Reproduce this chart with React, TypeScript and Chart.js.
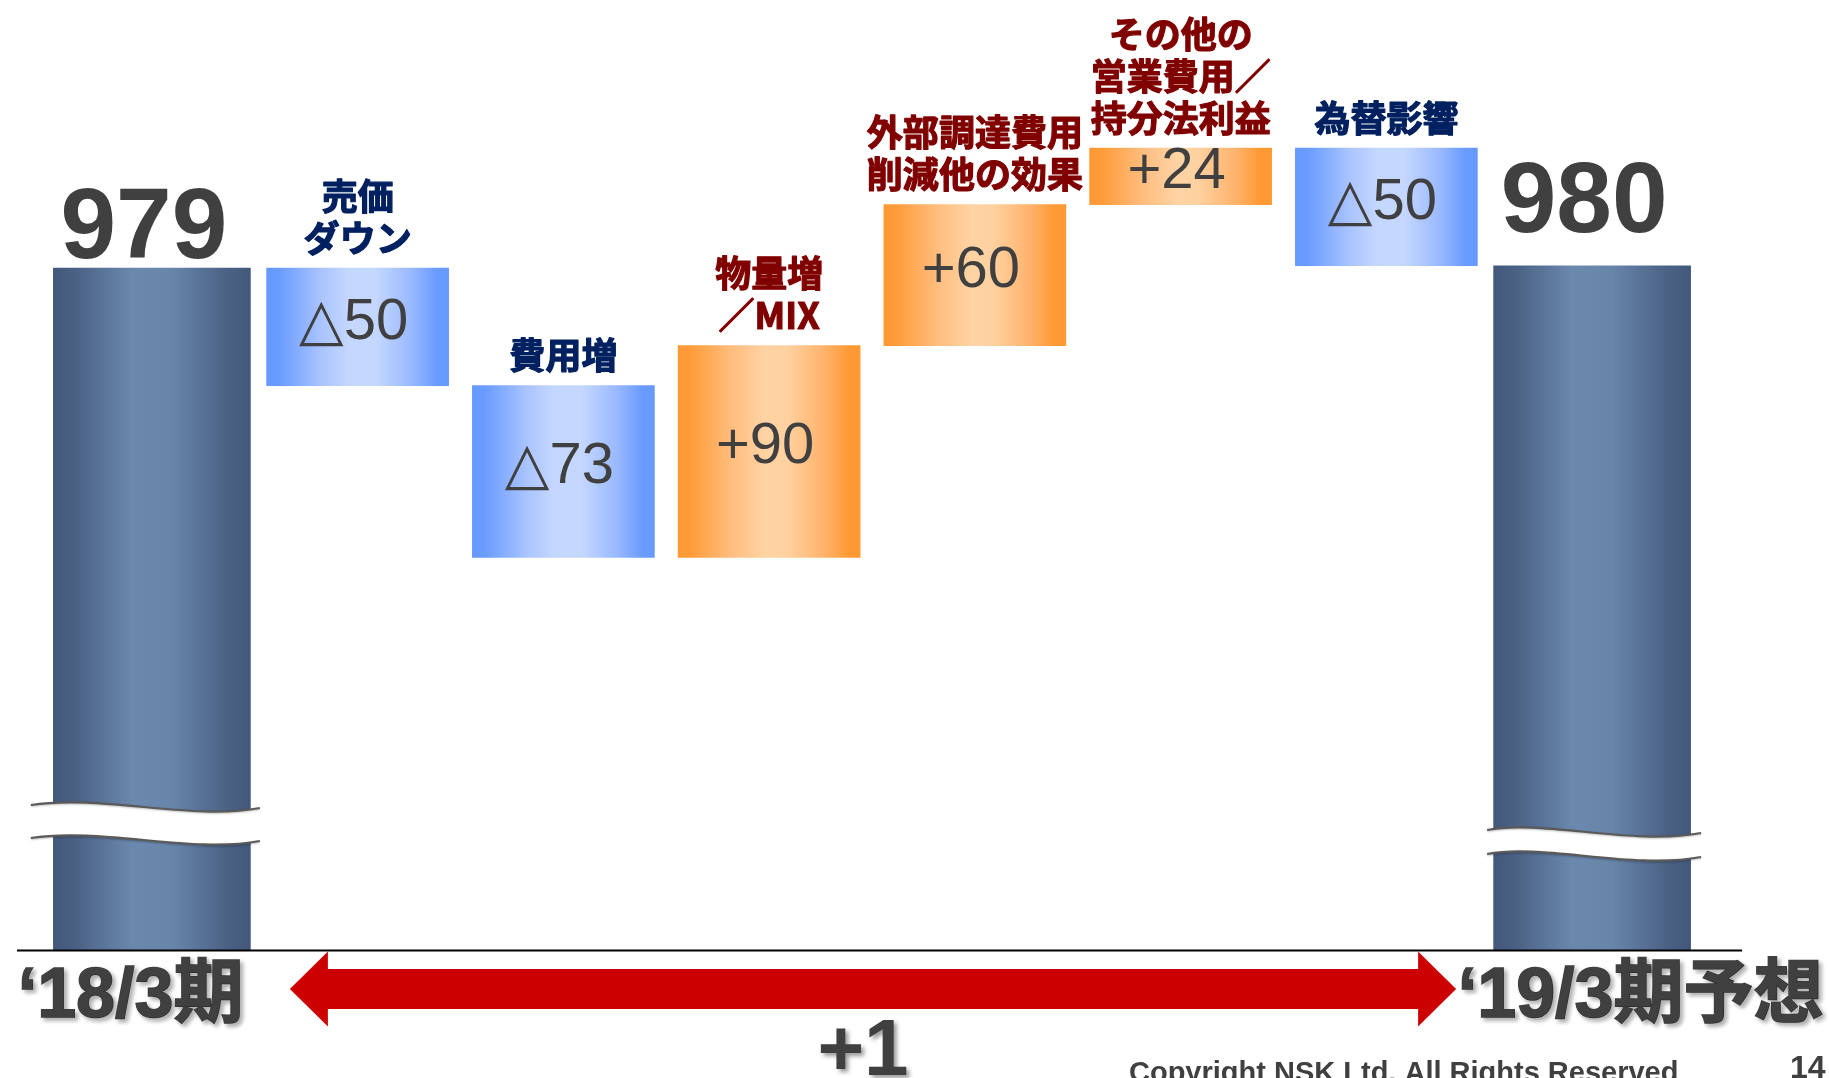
import React, { useEffect, useRef } from 'react';
import { Chart, registerables } from 'chart.js';

Chart.register(...registerables);

// ---- data ----
const categories = [
  '‘18/3期',
  '売価\nダウン',
  '費用増',
  '物量増\n／MIX',
  '外部調達費用\n削減他の効果',
  'その他の\n営業費用／\n持分法利益',
  '為替影響',
  '‘19/3期予想',
];
const tickLabels = ['‘18/3期', '‘19/3期予想'];
const startValue = 979;
const endValue = 980;
const deltas = [-50, -73, 90, 60, 24, -50];
const yMin = 689; // axis-break base of the value scale
const yMax = 1093;
const labelAxisMin = -0.054; // position range of the period-label axis
const labelAxisMax = 1.036;
const footerText = 'Copyright NSK Ltd. All Rights Reserved';
const pageNumber = '14';

// ---- derived series ----
const lastIndex = categories.length - 1;
const totals = categories.map((_, i) => (i === 0 ? startValue : i === lastIndex ? endValue : null));
const steps: (number[] | null)[] = (() => {
  let run = startValue;
  return categories.map((_, i) => {
    if (i === 0 || i === lastIndex) return null;
    const a = run;
    run += deltas[i - 1];
    return [Math.min(a, run), Math.max(a, run)];
  });
})();

const fmtDelta = (d: number) => (d < 0 ? '△' + Math.abs(d) : '+' + d);

// ---- styles ----
const TOTAL_W = 197;
const STEP_W = 182;
const TEXT_GRAY = '#404040';
const NAVY = '#002060';
const DARK_RED = '#800000';
const darkStops: [number, string][] = [
  [0, '#43587A'], [0.12, '#4B6285'], [0.4, '#6B88AD'], [0.6, '#6885AA'], [0.88, '#4B6285'], [1, '#43587A'],
];
const blueStops: [number, string][] = [
  [0, '#6699FF'], [0.07, '#6A9CFF'], [0.3, '#AAC4FF'], [0.45, '#C4D7FF'], [0.6, '#C4D7FF'], [0.8, '#98B8FF'], [0.93, '#6A9CFF'], [1, '#6699FF'],
];
const orangeStops: [number, string][] = [
  [0, '#FF9933'], [0.07, '#FF9C3A'], [0.3, '#FFBE80'], [0.48, '#FFD3A4'], [0.6, '#FFD1A0'], [0.8, '#FFB36C'], [0.94, '#FF9933'], [1, '#FF9933'],
];

function gradientFor(ctx: any, width: number, stops: [number, string][], fallback: string) {
  const chart = ctx.chart;
  if (!chart.chartArea || ctx.type !== 'data') return fallback;
  const cx = chart.scales.x.getPixelForValue(ctx.dataIndex);
  const g = chart.ctx.createLinearGradient(cx - width / 2, 0, cx + width / 2, 0);
  stops.forEach(([o, c]) => g.addColorStop(o, c));
  return g;
}

function drawBreak(c: CanvasRenderingContext2D, cx: number, yTop: number, gap: number, x0: number, x1: number) {
  const curve = (dy: number) => {
    c.moveTo(cx + x0, yTop + dy - 2);
    c.bezierCurveTo(cx - 50, yTop + dy - 13, cx + 40, yTop + dy + 14, cx + x1, yTop + dy + 1);
  };
  c.save();
  c.beginPath();
  curve(0);
  c.lineTo(cx + x1, yTop + gap + 1);
  c.bezierCurveTo(cx + 40, yTop + gap + 14, cx - 50, yTop + gap - 13, cx + x0, yTop + gap - 2);
  c.closePath();
  c.fillStyle = '#FFFFFF';
  c.fill();
  c.strokeStyle = '#5A5A5A';
  c.lineWidth = 2.2;
  c.shadowColor = 'rgba(0,0,0,0.25)';
  c.shadowBlur = 2;
  c.shadowOffsetY = 1;
  c.beginPath();
  curve(0);
  c.stroke();
  c.beginPath();
  curve(gap);
  c.stroke();
  c.restore();
}

const decorPlugin = {
  id: 'decor',
  afterDatasetsDraw(chart: any) {
    const c: CanvasRenderingContext2D = chart.ctx;
    const xs = chart.scales.x;
    const ys = chart.scales.y;
    const area = chart.chartArea;
    const bottom = area.bottom;
    const x0 = xs.getPixelForValue(0);
    const xN = xs.getPixelForValue(lastIndex);

    // axis breaks on the two total bars
    drawBreak(c, x0, bottom - 143, 33, -121, 108);
    drawBreak(c, xN, bottom - 118, 24, -105, 109);

    // baseline
    c.save();
    c.strokeStyle = '#000';
    c.lineWidth = 2;
    c.beginPath();
    c.moveTo(area.left - 32, bottom + 0.5);
    c.lineTo(area.right + 47, bottom + 0.5);
    c.stroke();
    c.restore();

    // total values above the side bars
    c.save();
    c.fillStyle = TEXT_GRAY;
    c.font = "bold 100px 'Liberation Sans', Arial, sans-serif";
    c.textAlign = 'center';
    c.textBaseline = 'alphabetic';
    c.fillText(String(startValue), x0 - 8, ys.getPixelForValue(startValue) - 10);
    c.fillText(String(endValue), xN - 8, ys.getPixelForValue(endValue) - 34);
    c.restore();

    // step labels
    steps.forEach((s, i) => {
      if (!s) return;
      const d = deltas[i - 1];
      const cx = xs.getPixelForValue(i);
      const top = ys.getPixelForValue(s[1]);
      const bot = ys.getPixelForValue(s[0]);
      c.save();
      c.fillStyle = TEXT_GRAY;
      c.font = "58px 'Liberation Sans', 'DejaVu Sans', sans-serif";
      c.textAlign = 'center';
      c.textBaseline = 'middle';
      c.fillText(fmtDelta(d), cx - 4, (top + bot) / 2 - 4);
      // category name above
      const lines = categories[i].split('\n');
      const col = d < 0 ? NAVY : DARK_RED;
      c.fillStyle = col;
      c.strokeStyle = col;
      c.lineWidth = 1.2;
      c.lineJoin = 'round';
      c.font = "bold 36px 'Noto Sans CJK JP', sans-serif";
      lines.forEach((ln, k) => {
        const y = top - 30 - (lines.length - 1 - k) * 42;
        c.strokeText(ln, cx, y);
        c.fillText(ln, cx, y);
      });
      c.restore();
    });

    // red double arrow
    const la = x0 + 138;
    const ra = xN - 136;
    const ay = bottom + 39;
    const sh = 20, hh = 37.5, hl = 38;
    c.save();
    c.fillStyle = '#CC0000';
    c.beginPath();
    c.moveTo(la, ay);
    c.lineTo(la + hl, ay - hh);
    c.lineTo(la + hl, ay - sh);
    c.lineTo(ra - hl, ay - sh);
    c.lineTo(ra - hl, ay - hh);
    c.lineTo(ra, ay);
    c.lineTo(ra - hl, ay + hh);
    c.lineTo(ra - hl, ay + sh);
    c.lineTo(la + hl, ay + sh);
    c.lineTo(la + hl, ay + hh);
    c.closePath();
    c.fill();
    c.restore();

    // total change under the arrow
    const change = endValue - startValue;
    c.save();
    c.fillStyle = TEXT_GRAY;
    c.font = "bold 80px 'Liberation Sans', Arial, sans-serif";
    c.textAlign = 'center';
    c.textBaseline = 'alphabetic';
    c.shadowColor = 'rgba(0,0,0,0.4)';
    c.shadowOffsetX = 3;
    c.shadowOffsetY = 3;
    c.shadowBlur = 4;
    c.fillText((change >= 0 ? '+' : '') + change, (la + ra) / 2 - 10, bottom + 125);
    c.restore();

    // footer
    c.save();
    c.fillStyle = TEXT_GRAY;
    c.textBaseline = 'alphabetic';
    c.textAlign = 'left';
    c.font = "bold 29px 'Liberation Sans', Arial, sans-serif";
    c.fillText(footerText, 1129, 1082);
    c.font = "bold 32px 'Liberation Sans', Arial, sans-serif";
    c.fillText(pageNumber, 1790, 1078);
    c.restore();

    // shadow for the period tick labels, drawn next (ticks z = 1)
    c.save();
    c.shadowColor = 'rgba(0,0,0,0.3)';
    c.shadowOffsetX = 3;
    c.shadowOffsetY = 3;
    c.shadowBlur = 4;
  },
  afterDraw(chart: any) {
    chart.ctx.restore();
  },
};

export default function App() {
  const ref = useRef<HTMLCanvasElement | null>(null);
  useEffect(() => {
    if (!ref.current) return;
    const chart = new Chart(ref.current, {
      type: 'bar',
      data: {
        labels: categories,
        datasets: [
          {
            label: 'total',
            data: totals as any,
            barThickness: TOTAL_W,
            grouped: false,
            borderWidth: 0,
            backgroundColor: (ctx: any) => gradientFor(ctx, TOTAL_W, darkStops, '#5A74A0'),
          } as any,
          {
            label: 'change',
            data: steps as any,
            barThickness: STEP_W,
            grouped: false,
            borderWidth: 0,
            backgroundColor: (ctx: any) => {
              const d = deltas[(ctx.dataIndex ?? 1) - 1] ?? 0;
              return d < 0
                ? gradientFor(ctx, STEP_W, blueStops, '#8FB3FF')
                : gradientFor(ctx, STEP_W, orangeStops, '#FFB46A');
            },
          } as any,
        ],
      },
      options: {
        responsive: false,
        animation: false,
        layout: { padding: { left: 49, right: 134, top: 0, bottom: 0 } },
        plugins: { legend: { display: false }, tooltip: { enabled: false } },
        scales: {
          x: {
            type: 'category',
            offset: true,
            display: false,
          },
          xl: {
            type: 'linear',
            position: 'bottom',
            offset: false,
            bounds: 'data',
            min: labelAxisMin,
            max: labelAxisMax,
            grid: { display: false, drawTicks: false, offset: false },
            border: { display: false },
            afterBuildTicks: (scale: any) => {
              scale.min = labelAxisMin;
              scale.max = labelAxisMax;
              scale.ticks = tickLabels.map((_, i) => ({ value: i }));
            },
            ticks: {
              z: 1,
              autoSkip: false,
              maxRotation: 0,
              minRotation: 0,
              padding: 6,
              color: TEXT_GRAY,
              textStrokeColor: TEXT_GRAY,
              textStrokeWidth: 1.5,
              font: { family: "'Liberation Sans', 'Noto Sans CJK JP', sans-serif", size: 70, weight: 'bold', lineHeight: 1.2 },
              callback: (v: any) => tickLabels[Math.round(Number(v))] ?? '',
            },
            afterFit: (scale: any) => {
              scale.height = 128;
              scale.paddingLeft = 0;
              scale.paddingRight = 0;
            },
          },
          y: {
            display: false,
            min: yMin,
            max: yMax,
          },
        },
      } as any,
      plugins: [decorPlugin as any],
    });
    return () => chart.destroy();
  }, []);
  return (
    <div style={{ position: 'fixed', left: 0, top: 0, width: 1829, height: 1078, background: '#fff' }}>
      <canvas ref={ref} width={1829} height={1078} style={{ display: 'block' }} />
    </div>
  );
}
